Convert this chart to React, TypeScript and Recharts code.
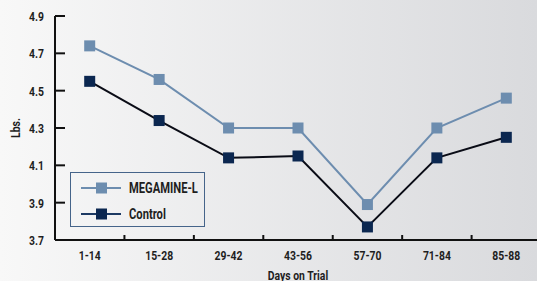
import React from 'react';
import { Line, LineChart, XAxis, YAxis } from 'recharts';

const periods = ['1-14', '15-28', '29-42', '43-56', '57-70', '71-84', '85-88'];
const megamine = [4.74, 4.56, 4.3, 4.3, 3.89, 4.3, 4.46];
const control = [4.55, 4.34, 4.14, 4.15, 3.77, 4.14, 4.25];
const yTicks = [3.7, 3.9, 4.1, 4.3, 4.5, 4.7, 4.9];

const rows = periods.map((p, i) => ({ period: p, megamine: megamine[i], control: control[i] }));

const FONT = "Roboto, 'DejaVu Sans Condensed', Arial, sans-serif";
const MEGA = '#6d8daf';
const NAVY = '#0b2750';
const BAND = 69.4;
const SQUEEZE = 0.8;

// condensed bold text, like the original's narrow typeface
function CText({ x, y, anchor = 'start', size = 13, rotate = 0, children }: any) {
  return (
    <text
      transform={`translate(${x},${y}) rotate(${rotate}) scale(${SQUEEZE},1)`}
      textAnchor={anchor}
      fontFamily={FONT}
      fontWeight="bold"
      fontSize={size}
      fill="#1e1e1e"
    >
      {children}
    </text>
  );
}

const square = (fill: string) => (p: any) => (
  <rect key={`${fill}-${p.index}`} x={p.cx - 5.5} y={p.cy - 5.5} width={11} height={11} fill={fill} />
);

function XTick(p: any) {
  const { x, y, payload, index } = p;
  return (
    <g>
      {index > 0 && <line x1={x - BAND / 2} x2={x - BAND / 2} y1={y} y2={y - 5} stroke="#111" strokeWidth={2} />}
      <CText x={x} y={y + 20} anchor="middle">{payload.value}</CText>
    </g>
  );
}

function YTick(p: any) {
  const { x, y, payload } = p;
  return (
    <g>
      <line x1={x} x2={x + 10} y1={y} y2={y} stroke="#111" strokeWidth={2} />
      <CText x={x - 11} y={y + 5} anchor="end">{payload.value.toFixed(1)}</CText>
    </g>
  );
}

const legendItems = [
  { name: 'MEGAMINE-L', line: MEGA, mark: MEGA },
  { name: 'Control', line: '#1d3a63', mark: NAVY },
];

function LegendBox() {
  return (
    <div
      style={{
        position: 'absolute', left: 70, top: 172, width: 135, height: 55,
        border: '1.5px solid #45648a', boxSizing: 'border-box',
      }}
    >
      <svg width={132} height={52} style={{ position: 'absolute', left: 0, top: 0 }}>
        {legendItems.map((it, i) => (
          <g key={it.name} transform={`translate(0, ${15 + i * 26})`}>
            <line x1={10} x2={50} y1={0} y2={0} stroke={it.line} strokeWidth={2} />
            <rect x={25} y={-5.5} width={11} height={11} fill={it.mark} />
            <CText x={58} y={5} size={14}>{it.name}</CText>
          </g>
        ))}
      </svg>
    </div>
  );
}

export default function App() {
  return (
    <div
      style={{
        position: 'fixed', left: 0, top: 0, width: 537, height: 281, overflow: 'hidden',
        background: 'linear-gradient(to right, #f8f8f8, #d9dadd)',
      }}
    >
      <LineChart width={545} height={281} data={rows} margin={{ top: 16, right: 4, bottom: 0, left: 0 }}>
        <XAxis
          dataKey="period"
          tick={<XTick />}
          tickLine={false}
          tickSize={0}
          tickMargin={0}
          height={41}
          padding={{ left: BAND / 2, right: BAND / 2 }}
          axisLine={{ stroke: '#111', strokeWidth: 2 }}
          interval={0}
          label={(p: any) => {
            const vb = p.viewBox;
            return <CText x={vb.x + vb.width / 2} y={vb.y + 40} anchor="middle">Days on Trial</CText>;
          }}
        />
        <YAxis
          domain={[3.7, 4.9]}
          ticks={yTicks}
          tick={<YTick />}
          tickLine={false}
          tickSize={0}
          tickMargin={0}
          width={55}
          axisLine={{ stroke: '#111', strokeWidth: 2 }}
          interval={0}
          label={(p: any) => {
            const vb = p.viewBox;
            return <CText x={20} y={vb.y + vb.height / 2} anchor="middle" rotate={-90}>Lbs.</CText>;
          }}
        />
        <Line dataKey="megamine" name="MEGAMINE-L" stroke={MEGA} strokeWidth={2} dot={square(MEGA)} isAnimationActive={false} />
        <Line dataKey="control" name="Control" stroke="#0a0c16" strokeWidth={2} dot={square(NAVY)} isAnimationActive={false} />
      </LineChart>
      <LegendBox />
    </div>
  );
}
